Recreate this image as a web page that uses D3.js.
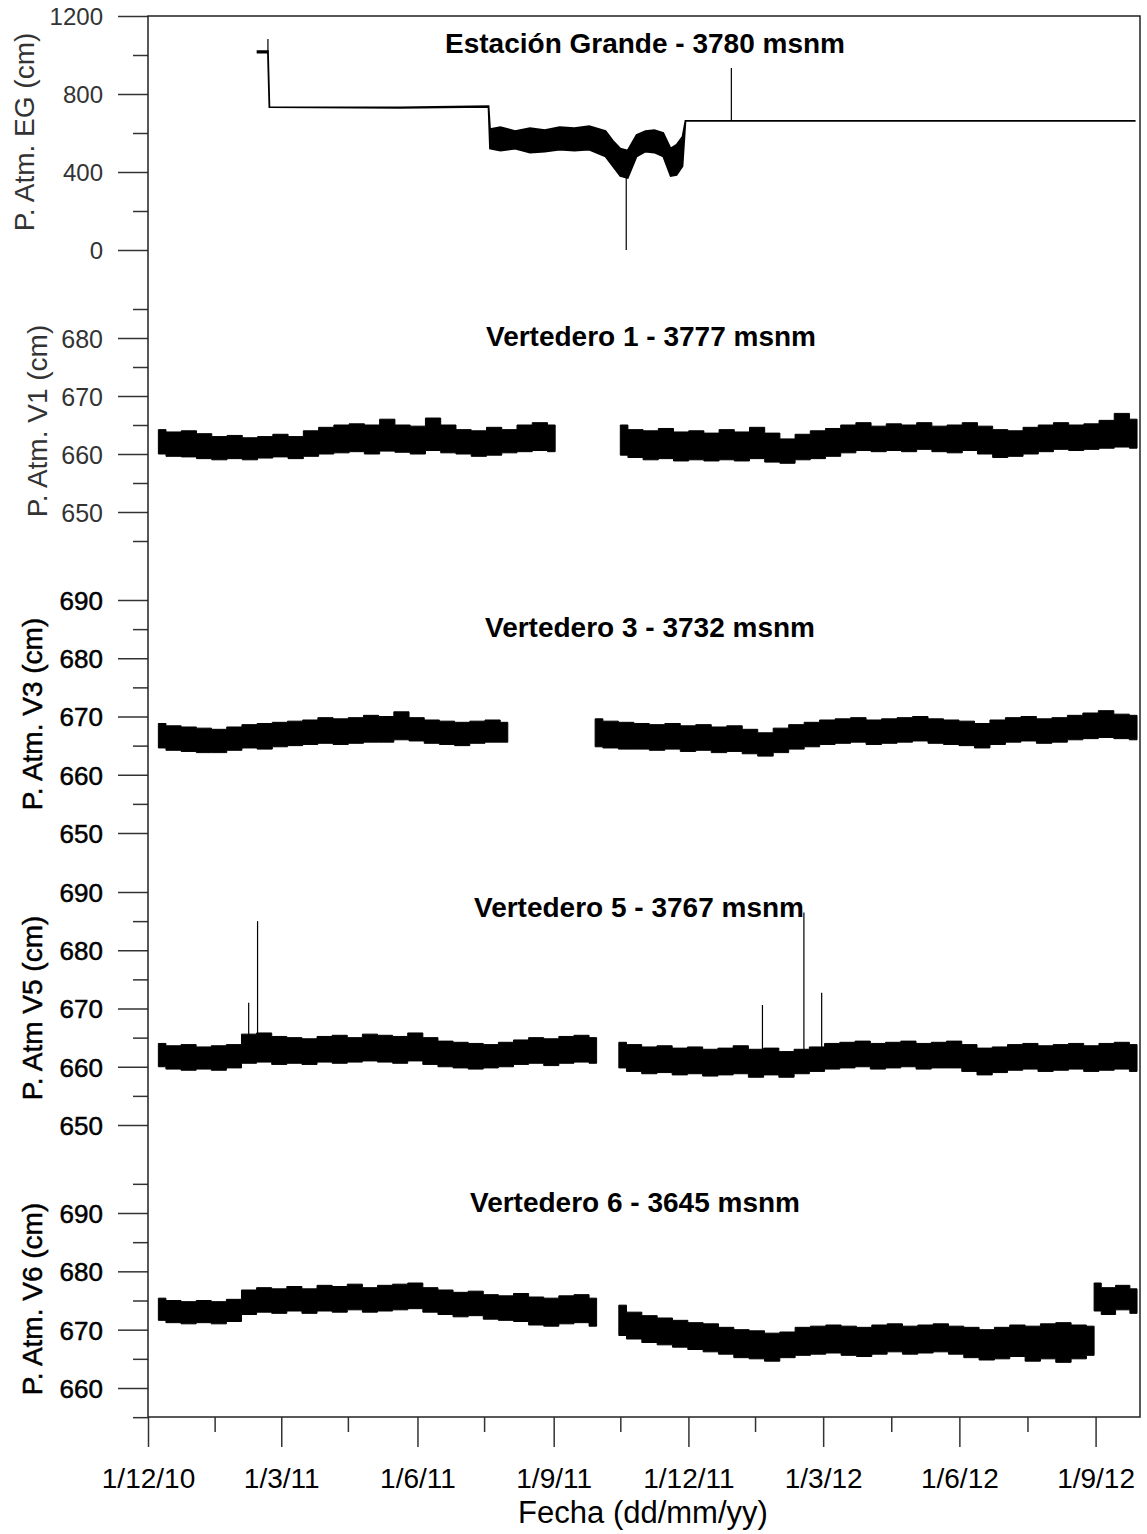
<!DOCTYPE html>
<html>
<head>
<meta charset="utf-8">
<script src="https://cdn.jsdelivr.net/npm/d3@7"></script>
<style>
  body { margin: 0; background: #fff; }
  svg { display: block; font-family: "Liberation Sans", Arial, sans-serif; }
  .frame { fill: none; stroke: #222; stroke-width: 1.5; }
  .tick line { stroke: #333; stroke-width: 1.5; }
  .band { fill: #000; stroke: #000; stroke-width: 1; stroke-linejoin: miter; }
  .band.eg { stroke-width: 1.8; }
  .spike { stroke: #000; stroke-width: 1.2; }
  .title { font-weight: bold; font-size: 28px; text-anchor: middle; fill: #000; }
  .ylabel { font-size: 28px; text-anchor: middle; }
  .light text, .ylabel.light { fill: #333; }
  .dark text, .ylabel.dark { fill: #000; stroke: #000; stroke-width: 0.5; }
</style>
</head>
<body>
<div id="chart"></div>
<script>
// ---- Data ----

// x axis
var xTickDates = ["2010-12-01", "2011-03-01", "2011-06-01", "2011-09-01", "2011-12-01", "2012-03-01", "2012-06-01", "2012-09-01"];
var xTickLabels = ["1/12/10", "1/3/11", "1/6/11", "1/9/11", "1/12/11", "1/3/12", "1/6/12", "1/9/12"];
var xMinorDates = ["2011-01-15", "2011-04-15", "2011-07-16", "2011-10-16", "2012-01-15", "2012-04-16", "2012-07-17"];

// y ticks
var egTicks = [0, 400, 800, 1200];
var egMinor = [200, 600, 1000];
var v1Ticks = [650, 660, 670, 680];
var v1Minor = [645, 655, 665, 675, 685];
var v3Ticks = [650, 660, 670, 680, 690];
var v3Minor = [655, 665, 675, 685];
var v5Ticks = [650, 660, 670, 680, 690];
var v5Minor = [655, 665, 675, 685];
var v6Ticks = [660, 670, 680, 690];
var v6Minor = [655, 665, 675, 685, 695];

// Estación Grande (explicit dates, upper / lower envelope)
var egDates = ["2011-02-13", "2011-02-20", "2011-02-21", "2011-05-20", "2011-07-19", "2011-07-20", "2011-07-27",
  "2011-08-06", "2011-08-16", "2011-08-26", "2011-09-05", "2011-09-15", "2011-09-25", "2011-10-06", "2011-10-11",
  "2011-10-16", "2011-10-21", "2011-10-27", "2011-11-02", "2011-11-08", "2011-11-14", "2011-11-19", "2011-11-23",
  "2011-11-27", "2011-11-29", "2012-09-28"];
var egHigh = [1020, 1020, 733, 731, 738, 620, 630, 610, 625, 615, 630, 625, 635, 610, 560, 520, 510, 590, 610, 615, 600, 520, 540, 580, 662, 662];
var egLow = [1012, 1012, 733, 729, 734, 520, 510, 520, 500, 505, 515, 510, 515, 480, 430, 380, 370, 480, 505, 500, 480, 380, 385, 430, 662, 662];
var egSpikeDates = ["2011-02-20", "2011-10-20", "2011-12-30"];
var egSpikeBase = [1015, 380, 662];
var egSpikePeak = [1082, 0, 933];

// Vertedero 1 (each period sampled evenly between its start and end)
var v1Periods = [["2010-12-08", "2011-09-02"], ["2011-10-16", "2012-09-29"]];
var v1High = [
  [664.2, 663.8, 664.0, 663.5, 663.0, 663.2, 662.8, 663.0, 663.4, 663.0, 664.0, 664.6, 665.0, 665.2, 665.0, 666.0, 665.0, 664.8, 666.2, 665.0, 664.2, 664.0, 664.6, 664.2, 665.0, 665.4, 665.0],
  [665.0, 664.2, 664.0, 664.4, 663.8, 664.0, 663.6, 664.2, 663.8, 664.6, 663.6, 662.6, 663.4, 664.0, 664.4, 665.0, 665.4, 664.8, 665.2, 665.0, 665.4, 664.8, 665.0, 665.4, 664.8, 664.2, 664.0, 664.6, 665.0, 665.4, 665.0, 665.2, 665.8, 667.0, 666.0]
];
var v1Low = [
  [660.0, 659.6, 659.5, 659.2, 659.0, 659.2, 659.0, 659.3, 659.5, 659.2, 659.6, 660.0, 660.2, 660.4, 660.0, 660.5, 660.3, 660.0, 660.6, 660.2, 660.0, 659.6, 659.8, 660.2, 660.4, 660.6, 660.4],
  [659.8, 659.4, 659.0, 659.2, 658.8, 659.0, 658.8, 659.0, 658.8, 659.2, 658.6, 658.4, 659.0, 659.2, 659.6, 660.2, 660.6, 660.4, 660.6, 660.4, 660.8, 660.4, 660.2, 660.6, 660.0, 659.4, 659.6, 660.0, 660.4, 660.8, 660.6, 660.8, 661.0, 661.2, 661.0]
];

// Vertedero 3
var v3Periods = [["2010-12-08", "2011-08-01"], ["2011-09-29", "2012-09-29"]];
var v3High = [
  [668.8, 668.4, 668.2, 668.0, 667.8, 668.2, 668.6, 668.8, 669.0, 669.2, 669.4, 669.8, 669.6, 669.8, 670.2, 670.0, 670.8, 669.8, 669.4, 669.2, 669.0, 669.2, 669.4, 669.0],
  [669.6, 669.2, 669.0, 668.8, 668.6, 668.8, 668.4, 668.6, 668.2, 668.4, 667.8, 667.2, 668.0, 668.6, 669.0, 669.4, 669.6, 669.8, 669.4, 669.6, 669.8, 670.0, 669.6, 669.4, 669.2, 668.8, 669.4, 669.8, 670.0, 669.6, 669.8, 670.2, 670.6, 671.0, 670.4, 670.2]
];
var v3Low = [
  [664.6, 664.2, 664.0, 663.8, 663.8, 664.2, 664.6, 664.4, 664.8, 665.0, 665.2, 665.4, 665.2, 665.4, 665.6, 665.6, 666.0, 665.8, 665.4, 665.2, 665.0, 665.4, 665.6, 665.6],
  [664.8, 664.6, 664.4, 664.4, 664.2, 664.4, 664.0, 664.2, 663.8, 664.0, 663.6, 663.2, 663.8, 664.4, 664.8, 665.2, 665.4, 665.6, 665.2, 665.4, 665.6, 665.8, 665.4, 665.2, 665.0, 664.6, 665.2, 665.6, 665.8, 665.4, 665.6, 666.0, 666.2, 666.4, 666.2, 666.0]
];

// Vertedero 5
var v5Periods = [["2010-12-08", "2011-09-30"], ["2011-10-15", "2012-09-29"]];
var v5High = [
  [664.0, 663.6, 663.8, 663.4, 663.6, 663.8, 665.6, 665.8, 665.2, 665.0, 664.8, 665.2, 665.4, 665.0, 665.6, 665.4, 665.2, 665.8, 665.0, 664.4, 664.2, 664.0, 663.8, 664.2, 664.6, 665.0, 664.8, 665.2, 665.4, 665.0],
  [664.2, 663.8, 663.4, 663.6, 663.2, 663.4, 663.0, 663.2, 663.6, 663.0, 663.2, 662.6, 663.0, 663.4, 664.0, 664.2, 664.4, 664.0, 664.2, 664.4, 664.0, 664.2, 664.4, 663.8, 663.2, 663.4, 663.8, 664.0, 663.6, 663.8, 664.0, 663.6, 664.0, 664.2, 663.8]
];
var v5Low = [
  [660.0, 659.6, 659.4, 659.6, 659.4, 659.8, 660.6, 660.8, 660.4, 660.6, 660.4, 660.8, 660.6, 660.8, 661.0, 660.8, 660.6, 661.0, 660.4, 660.0, 659.8, 659.6, 659.8, 660.0, 660.4, 660.6, 660.2, 660.6, 660.8, 660.6],
  [659.8, 659.2, 658.8, 659.0, 658.6, 658.8, 658.4, 658.6, 658.8, 658.2, 658.6, 658.2, 658.8, 659.2, 659.6, 659.8, 660.0, 659.6, 659.8, 660.0, 659.6, 659.8, 659.8, 659.2, 658.6, 659.0, 659.4, 659.6, 659.2, 659.4, 659.6, 659.2, 659.4, 659.6, 659.2]
];
var v5SpikeDates = ["2011-02-07", "2011-02-13", "2012-01-20", "2012-02-17", "2012-02-29"];
var v5SpikeBase = [664, 665, 662, 662, 662];
var v5SpikePeak = [671, 685, 670.6, 686.5, 672.7];

// Vertedero 6
var v6Periods = [["2010-12-08", "2011-09-30"], ["2011-10-15", "2012-08-31"], ["2012-08-31", "2012-09-29"]];
var v6High = [
  [675.4, 675.0, 674.8, 675.0, 674.8, 675.2, 676.8, 677.2, 677.0, 677.4, 677.0, 677.6, 677.4, 677.8, 677.2, 677.6, 677.8, 678.0, 677.2, 676.8, 676.4, 676.6, 676.0, 675.8, 676.2, 675.6, 675.4, 675.8, 676.0, 675.4],
  [674.2, 673.0, 672.4, 672.0, 671.6, 671.2, 671.0, 670.4, 670.0, 669.8, 669.4, 669.6, 670.4, 670.6, 670.8, 670.6, 670.4, 670.8, 671.0, 670.6, 670.8, 671.0, 670.6, 670.4, 670.0, 670.4, 670.8, 670.6, 671.0, 671.2, 670.8, 670.6],
  [678.0, 677.2, 677.6, 677.0]
];
var v6Low = [
  [671.6, 671.2, 671.0, 671.2, 671.0, 671.4, 672.6, 673.0, 672.8, 673.2, 672.8, 673.2, 673.0, 673.4, 673.0, 673.2, 673.4, 673.6, 673.0, 672.6, 672.2, 672.4, 671.8, 671.6, 671.4, 670.8, 670.6, 671.0, 671.2, 670.6],
  [669.0, 668.4, 667.8, 667.4, 667.0, 666.6, 666.2, 665.8, 665.2, 665.0, 664.6, 665.2, 665.6, 665.8, 666.0, 665.6, 665.4, 665.8, 666.2, 665.8, 666.0, 666.2, 665.8, 665.2, 664.8, 665.0, 665.4, 664.6, 665.0, 664.4, 665.0, 665.6],
  [673.2, 672.6, 673.4, 672.8]
];

// ---- Layout ----
var WIDTH = 1147;
var HEIGHT = 1534;
var plotLeft = 148;
var plotRight = 1140;
var plotTop = 16;
var plotBottom = 1417;

var parseDate = d3.utcParse("%Y-%m-%d");

var render = function() {
  var svg = d3.select("#chart")
    .append("svg")
    .attr("width", WIDTH)
    .attr("height", HEIGHT);

  var xScale = d3.scaleUtc()
    .domain([parseDate("2010-12-01"), parseDate("2012-10-01")])
    .range([plotLeft, plotRight]);

  var panels = [
    {
      ticks: egTicks, minor: egMinor, domain: [0, 1200], range: [250, 16], tone: "light", tickFont: 24,
      title: "Estación Grande - 3780 msnm", titleX: 645, titleY: 53,
      label: "P. Atm. EG (cm)", labelX: 34, labelY: 132
    },
    {
      ticks: v1Ticks, minor: v1Minor, domain: [650, 680], range: [512, 338], tone: "light", tickFont: 25,
      title: "Vertedero 1 - 3777 msnm", titleX: 651, titleY: 346,
      label: "P. Atm. V1 (cm)", labelX: 47, labelY: 421,
      periods: v1Periods, high: v1High, low: v1Low
    },
    {
      ticks: v3Ticks, minor: v3Minor, domain: [650, 690], range: [833, 600], tone: "dark", tickFont: 26,
      title: "Vertedero 3 - 3732 msnm", titleX: 650, titleY: 637,
      label: "P. Atm. V3 (cm)", labelX: 42, labelY: 714,
      periods: v3Periods, high: v3High, low: v3Low
    },
    {
      ticks: v5Ticks, minor: v5Minor, domain: [650, 690], range: [1125, 892], tone: "dark", tickFont: 26,
      title: "Vertedero 5 - 3767 msnm", titleX: 639, titleY: 917,
      label: "P. Atm V5 (cm)", labelX: 42, labelY: 1008,
      periods: v5Periods, high: v5High, low: v5Low,
      spikes: { dates: v5SpikeDates, base: v5SpikeBase, peak: v5SpikePeak }
    },
    {
      ticks: v6Ticks, minor: v6Minor, domain: [660, 690], range: [1388, 1213], tone: "dark", tickFont: 26,
      title: "Vertedero 6 - 3645 msnm", titleX: 635, titleY: 1212,
      label: "P. Atm. V6 (cm)", labelX: 42, labelY: 1299,
      periods: v6Periods, high: v6High, low: v6Low
    }
  ];

  var area = function(yScale, curve) {
    return d3.area()
      .curve(curve)
      .x(function(d) { return xScale(d.date); })
      .y0(function(d) { return yScale(d.lo); })
      .y1(function(d) { return yScale(d.hi); });
  };

  panels.forEach(function(p, idx) {
    var yScale = d3.scaleLinear().domain(p.domain).range(p.range);

    // Minor ticks
    svg.append("g")
      .attr("transform", "translate(" + plotLeft + ",0)")
      .call(d3.axisLeft(yScale).tickValues(p.minor).tickSize(15).tickFormat(""))
      .call(function(g) { g.select(".domain").remove(); });

    // Major ticks with labels
    svg.append("g")
      .attr("class", "y axis " + p.tone)
      .attr("transform", "translate(" + plotLeft + ",0)")
      .call(d3.axisLeft(yScale).tickValues(p.ticks).tickSize(30).tickPadding(15).tickFormat(d3.format("d")))
      .call(function(g) { g.select(".domain").remove(); })
      .call(function(g) {
        g.selectAll("text")
          .attr("font-family", null)
          .attr("font-size", p.tickFont)
          .attr("dy", "0.36em");
      });

    // Axis title
    svg.append("text")
      .attr("class", "ylabel " + p.tone)
      .attr("transform", "translate(" + p.labelX + "," + p.labelY + ") rotate(-90)")
      .text(p.label);

    // Series
    var plot = svg.append("g").attr("class", "series");
    if (idx === 0) {
      var egPoints = egDates.map(function(d, i) {
        return { date: parseDate(d), hi: egHigh[i], lo: egLow[i] };
      });
      plot.append("path").datum(egPoints).attr("class", "band eg").attr("d", area(yScale, d3.curveLinear));
      p.spikes = { dates: egSpikeDates, base: egSpikeBase, peak: egSpikePeak };
    } else {
      p.periods.forEach(function(period, k) {
        var t0 = parseDate(period[0]).getTime();
        var t1 = parseDate(period[1]).getTime();
        var n = p.high[k].length;
        var points = p.high[k].map(function(h, i) {
          return { date: new Date(t0 + (t1 - t0) * i / (n - 1)), hi: h, lo: p.low[k][i] };
        });
        plot.append("path").datum(points).attr("class", "band").attr("d", area(yScale, d3.curveStep));
      });
    }

    if (p.spikes) {
      plot.selectAll("line.spike")
        .data(p.spikes.dates)
        .enter()
        .append("line")
        .attr("class", "spike")
        .attr("x1", function(d) { return xScale(parseDate(d)); })
        .attr("x2", function(d) { return xScale(parseDate(d)); })
        .attr("y1", function(d, i) { return yScale(p.spikes.base[i]); })
        .attr("y2", function(d, i) { return yScale(p.spikes.peak[i]); });
    }

    // Panel title
    svg.append("text")
      .attr("class", "title")
      .attr("x", p.titleX)
      .attr("y", p.titleY)
      .text(p.title);
  });

  // Frame
  svg.append("rect")
    .attr("class", "frame")
    .attr("x", plotLeft)
    .attr("y", plotTop)
    .attr("width", plotRight - plotLeft)
    .attr("height", plotBottom - plotTop);

  // X axis
  svg.append("g")
    .attr("transform", "translate(0," + plotBottom + ")")
    .call(d3.axisBottom(xScale).tickValues(xMinorDates.map(parseDate)).tickSize(15).tickFormat(""))
    .call(function(g) { g.select(".domain").remove(); });

  svg.append("g")
    .attr("class", "x axis")
    .attr("transform", "translate(0," + plotBottom + ")")
    .call(d3.axisBottom(xScale)
      .tickValues(xTickDates.map(parseDate))
      .tickSize(30)
      .tickFormat(function(d, i) { return xTickLabels[i]; }))
    .call(function(g) { g.select(".domain").remove(); })
    .call(function(g) {
      g.selectAll("text")
        .attr("font-family", null)
        .attr("font-size", 28)
        .attr("fill", "#000")
        .attr("y", 71)
        .attr("dy", 0);
    });

  svg.append("text")
    .attr("x", 643)
    .attr("y", 1523)
    .attr("text-anchor", "middle")
    .attr("font-size", 31)
    .attr("fill", "#000")
    .text("Fecha (dd/mm/yy)");
};

window.onload = render;
</script>
</body>
</html>
